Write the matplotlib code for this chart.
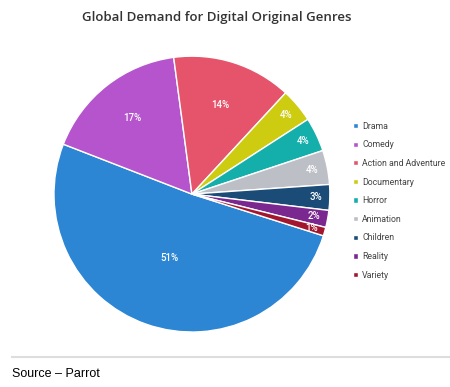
import numpy as np
import matplotlib.pyplot as plt

genres = ['Drama', 'Comedy', 'Action and Adventure', 'Documentary', 'Horror',
          'Animation', 'Children', 'Reality', 'Variety']
shares = [51, 17, 14, 4, 4, 4, 3, 2, 1]
colors = ['#2C86D3', '#B554CC', '#E5546A', '#CDCC10', '#14AFAA',
          '#BDBFC6', '#1B4C78', '#7B2790', '#A3172E']
# distance of each percentage label from centre (fraction of radius)
label_dist = [0.49, 0.7, 0.68, 0.89, 0.89, 0.89, 0.9, 0.9, 0.9]

fig = plt.figure(figsize=(4.5, 3.87), dpi=100)
ax = fig.add_axes([0.12, 0.142, 0.613, 0.713])

wedges, _ = ax.pie(shares, colors=colors, startangle=-17.6, counterclock=False,
                   wedgeprops=dict(edgecolor='white', linewidth=1.0))
ax.set_xlim(-1, 1)
ax.set_ylim(-1, 1)
ax.set_aspect('equal')

for w, v, d in zip(wedges, shares, label_dist):
    ang = np.deg2rad((w.theta1 + w.theta2) / 2)
    ax.text(d * np.cos(ang), d * np.sin(ang), f'{v}%', ha='center', va='center',
            fontsize=7, fontweight='medium', color='white', family='Roboto')

leg = fig.legend(wedges, genres, loc='upper left', bbox_to_anchor=(0.775, 0.697),
                 frameon=False, fontsize=6.3, handlelength=0.55, handleheight=0.55,
                 handletextpad=0.5, labelspacing=1.1, borderpad=0)
for t in leg.get_texts():
    t.set_color('#444444')
    t.set_family('Roboto')

fig.text(0.482, 0.955, 'Global Demand for Digital Original Genres', ha='center',
         va='center', fontsize=9.5, fontweight='semibold', family='Open Sans',
         color='#333333')

fig.add_artist(plt.Line2D([12 / 450, 1], [1 - 357 / 387] * 2, color='#DDDDDD',
                          linewidth=1.5, transform=fig.transFigure))
fig.text(12 / 450, 1 - 374 / 387, 'Source \u2013 Parrot', ha='left', va='center',
         fontsize=9, family='Liberation Sans', color='black')

fig.savefig('out.png', dpi=100)
